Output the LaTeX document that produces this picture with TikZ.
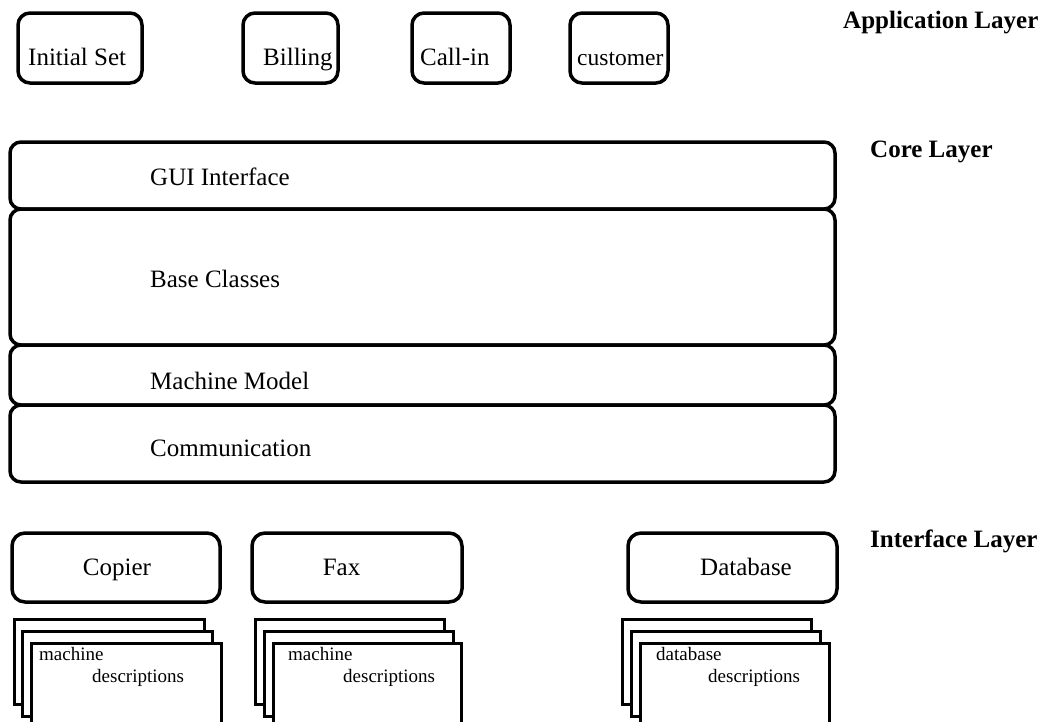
\documentclass[tikz,border=0pt]{standalone}
\usepackage{fontspec}
\setmainfont{Liberation Serif}
\begin{document}
\begin{tikzpicture}[x=1pt,y=-1pt,
  appbox/.style={draw,line width=3.5pt,rounded corners=12pt,inner sep=0pt,fill=white},
  corebox/.style={draw,line width=3.5pt,rounded corners=11pt,inner sep=0pt,minimum width=825pt},
  ifbox/.style={draw,line width=3.5pt,rounded corners=13pt,inner sep=0pt,minimum height=69pt},
  sheet/.style={draw,line width=2.8pt,fill=white,inner sep=0pt,anchor=north west,minimum width=190pt,minimum height=85pt},
  lbl/.style={inner sep=0pt,anchor=base west,font=\fontsize{25}{30}\selectfont},
  clbl/.style={inner sep=0pt,anchor=base,font=\fontsize{25}{30}\selectfont},
  small/.style={inner sep=0pt,anchor=base west,font=\fontsize{19}{22}\selectfont},
  layer/.style={inner sep=0pt,anchor=base west,font=\fontsize{25}{30}\selectfont\bfseries}]
\clip (0,0) rectangle (1047,721);
\fill[white] (0,0) rectangle (1047,721);

% Application layer
\node[appbox,minimum width=124pt,minimum height=70pt] (init) at (80,48) {};
\node[appbox,minimum width=95pt,minimum height=70pt] (bill) at (290.5,48) {};
\node[appbox,minimum width=98pt,minimum height=70pt] (callin) at (461,48) {};
\node[appbox,minimum width=98pt,minimum height=70pt] (cust) at (619,48) {};
\node[lbl] (initT) at (28,65) {Initial Set};
\node[lbl] (billT) at (263,65) {Billing};
\node[lbl] (callinT) at (420,65) {Call-in};
\node[lbl,font=\fontsize{23.5}{28}\selectfont] (custT) at (577,65) {customer};
\node[layer] (appL) at (843,28) {Application Layer};

% Core layer
\node[corebox,minimum height=67pt] (gui) at (422.5,175.5) {};
\node[corebox,minimum height=136pt] (base) at (422.5,277) {};
\node[corebox,minimum height=60pt] (mm) at (422.5,375) {};
\node[corebox,minimum height=77pt] (comm) at (422.5,443.5) {};
\node[lbl] (guiT) at (150,185) {GUI Interface};
\node[lbl] (baseT) at (150,287) {Base Classes};
\node[lbl] (mmT) at (150,389) {Machine Model};
\node[lbl] (commT) at (150,456) {Communication};
\node[layer] (coreL) at (870,157) {Core Layer};

% Interface layer
\node[ifbox,minimum width=208pt] (copier) at (116,567.5) {};
\node[ifbox,minimum width=210pt] (fax) at (357,567.5) {};
\node[ifbox,minimum width=209pt] (db) at (732.5,567.5) {};
\node[clbl] (copierT) at (117,575) {Copier};
\node[clbl] (faxT) at (341.5,575) {Fax};
\node[clbl] (dbT) at (746,575) {Database};
\node[layer] (ifL) at (870,547) {Interface Layer};

% description sheets
\node[sheet] (cs1) at (13,618) {};
\node[sheet] (cs2) at (21,630) {};
\node[sheet,minimum height=100pt] (cs3) at (30,642) {};
\node[small] (csA) at (39,660) {machine};
\node[small] (csB) at (92,682) {descriptions};

\node[sheet,minimum width=189pt] (fs1) at (254,618) {};
\node[sheet,minimum width=189pt] (fs2) at (263,630) {};
\node[sheet,minimum width=188pt,minimum height=100pt] (fs3) at (272,642) {};
\node[small] (fsA) at (288,660) {machine};
\node[small] (fsB) at (343,682) {descriptions};

\node[sheet,minimum width=189pt] (ds1) at (621,618) {};
\node[sheet,minimum width=189pt] (ds2) at (630,630) {};
\node[sheet,minimum width=189pt,minimum height=100pt] (ds3) at (639,642) {};
\node[small] (dsA) at (656,660) {database};
\node[small] (dsB) at (708,682) {descriptions};
\end{tikzpicture}
\end{document}
